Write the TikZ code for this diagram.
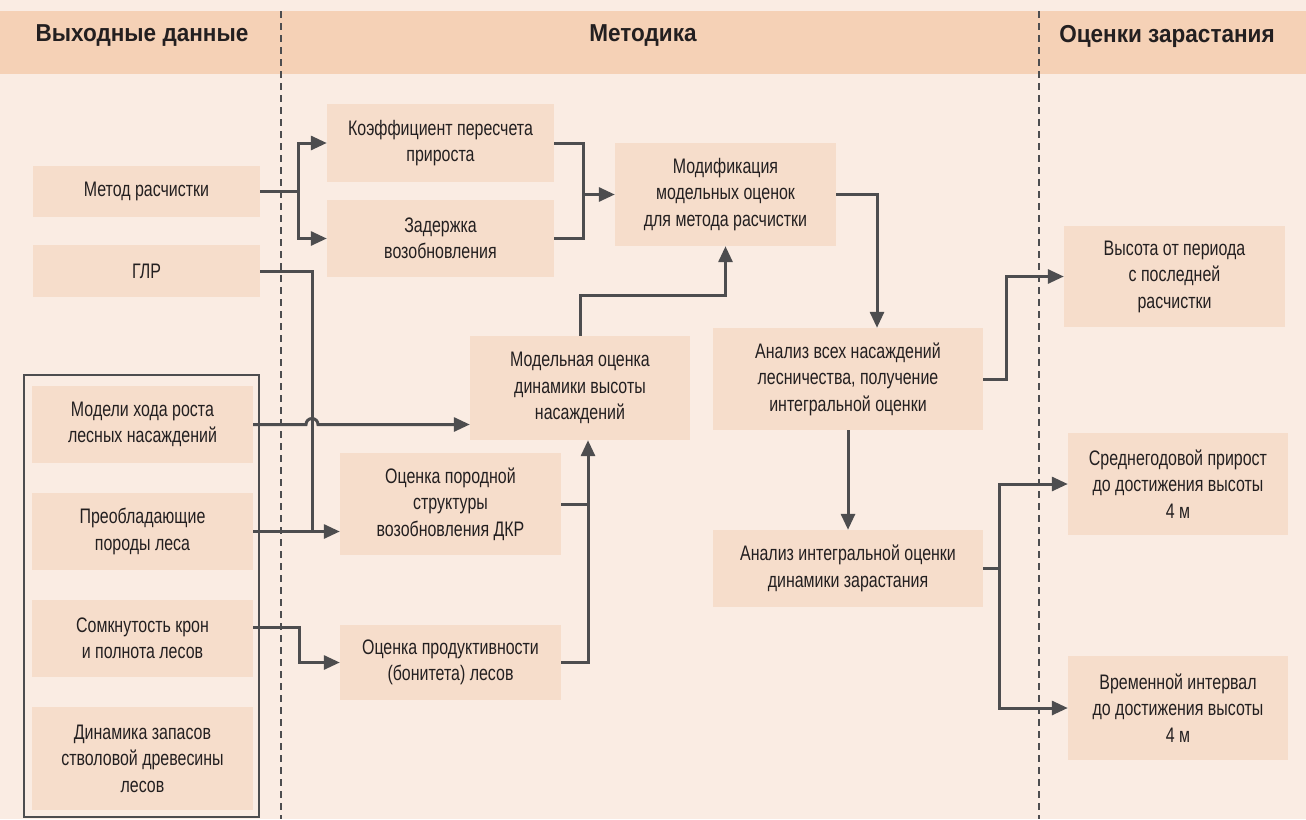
\documentclass[tikz,border=0pt]{standalone}
\usepackage{fontspec}
\setmainfont[FakeStretch=0.76]{Liberation Sans}
\newfontfamily\headfont[FakeStretch=0.92]{Liberation Sans}
\usetikzlibrary{arrows.meta}

\definecolor{bgpaper}{RGB}{250,236,227}
\definecolor{headband}{RGB}{245,209,182}
\definecolor{boxfill}{RGB}{246,221,203}
\definecolor{linegray}{RGB}{77,77,79}
\definecolor{textgray}{RGB}{35,31,32}

\begin{document}
\begin{tikzpicture}[x=1pt,y=-1pt,
  block/.style={fill=boxfill, align=center, inner sep=0pt, text=textgray,
    font=\fontsize{21}{26.5}\selectfont},
  head/.style={text=textgray, font=\headfont\bfseries\fontsize{24.5}{28}\selectfont},
  link/.style={draw=linegray, line width=3pt},
  arr/.style={link, -{Triangle[length=16pt,width=14pt]}},
  divider/.style={draw=linegray, line width=2.2pt, dash pattern=on 7pt off 5pt}]

% background and header band
\fill[bgpaper] (0,0) rectangle (1306,819);
\useasboundingbox (0,0) rectangle (1306,819);
\fill[headband] (0,11) rectangle (1306,74);
\node[head] (hin) at (142,36) {Выходные данные};
\node[head] (hmeth) at (643,36) {Методика};
\node[head] (hout) at (1167,36) {Оценки зарастания};

\draw[divider] (281,11) -- (281,819);
\draw[divider] (1039,11) -- (1039,819);

% input data
\node[block, minimum width=227pt, minimum height=51pt] (metod) at (146.5,191.5) {Метод расчистки};
\node[block, minimum width=227pt, minimum height=52pt] (glr) at (146.5,271) {ГЛР};
\draw[linegray, line width=2.4pt] (24,375) rectangle (259,817);
\node[block, minimum width=221pt, minimum height=77pt] (models) at (142.5,424.5) {Модели хода роста\\лесных насаждений};
\node[block, minimum width=221pt, minimum height=77pt] (species) at (142.5,531.5) {Преобладающие\\породы леса};
\node[block, minimum width=221pt, minimum height=77pt] (canopy) at (142.5,638.5) {Сомкнутость крон\\и полнота лесов};
\node[block, minimum width=221pt, minimum height=103pt] (stock) at (142.5,758.5) {Динамика запасов\\стволовой древесины\\лесов};

% method
\node[block, minimum width=227pt, minimum height=78pt] (koef) at (440.5,143) {Коэффициент пересчета\\прироста};
\node[block, minimum width=227pt, minimum height=77pt] (delay) at (440.5,238.5) {Задержка\\возобновления};
\node[block, minimum width=221pt, minimum height=103pt] (modif) at (725.5,194.5) {Модификация\\модельных оценок\\для метода расчистки};
\node[block, minimum width=220pt, minimum height=104pt] (modest) at (580,388) {Модельная оценка\\динамики высоты\\насаждений};
\node[block, minimum width=221pt, minimum height=102pt] (struct) at (450.5,504) {Оценка породной\\структуры\\возобновления ДКР};
\node[block, minimum width=221pt, minimum height=75pt] (product) at (450.5,662.5) {Оценка продуктивности\\(бонитета) лесов};
\node[block, minimum width=270pt, minimum height=102pt] (analysis) at (848,379) {Анализ всех насаждений\\лесничества, получение\\интегральной оценки};
\node[block, minimum width=270pt, minimum height=77pt] (integ) at (848,568.5) {Анализ интегральной оценки\\динамики зарастания};

% results
\node[block, minimum width=221pt, minimum height=101pt] (height) at (1174.5,276.5) {Высота от периода\\с последней\\расчистки};
\node[block, minimum width=220pt, minimum height=102pt] (avg) at (1178,484) {Среднегодовой прирост\\до достижения высоты\\4 м};
\node[block, minimum width=220pt, minimum height=104pt] (interval) at (1178,708) {Временной интервал\\до достижения высоты\\4 м};

% connectors
\coordinate (splitA) at (298,0);
\coordinate (joinB) at (583,0);
\coordinate (hopx) at (312,0);
\coordinate (splitC) at (299,0);
\coordinate (joinD) at (588,0);
\coordinate (riseY) at (0,295);
\coordinate (dropx) at (877,0);
\coordinate (splitF) at (1006,0);
\coordinate (splitG) at (999,0);
\coordinate (canopyout) at ([yshift=11pt]canopy.east);

\draw[arr] (metod.east) -- (splitA |- metod.east) |- (koef.west);
\draw[arr] (splitA |- metod.east) |- (delay.west);
\draw[link] (koef.east) -| (joinB |- delay.east) -- (delay.east);
\draw[arr] (joinB |- modif.west) -- (modif.west);

\draw[link] (glr.east) -| (hopx |- species.east);
\draw[arr] (models.east) -- ([xshift=-6pt]hopx |- models.east)
  arc[start angle=180, end angle=0, radius=6pt] -- (models.east -| modest.west);
\draw[arr] (species.east) -- (species.east -| struct.west);
\draw[arr] (canopyout) -- (splitC |- canopyout) |- (product.west);

\draw[link] (struct.east) -- (joinD |- struct.east);
\draw[arr] (product.east) -| (joinD |- modest.south);
\draw[arr] (modest.north) -- (modest.north |- riseY) -| (modif.south);
\draw[arr] (modif.east) -| (dropx |- analysis.north);

\draw[arr] (analysis.east) -- (splitF |- analysis.east) |- (height.west);
\draw[arr] (analysis.south) -- (integ.north);
\draw[arr] (integ.east) -- (splitG |- integ.east) |- (avg.west);
\draw[arr] (splitG |- integ.east) |- (interval.west);
\end{tikzpicture}
\end{document}
